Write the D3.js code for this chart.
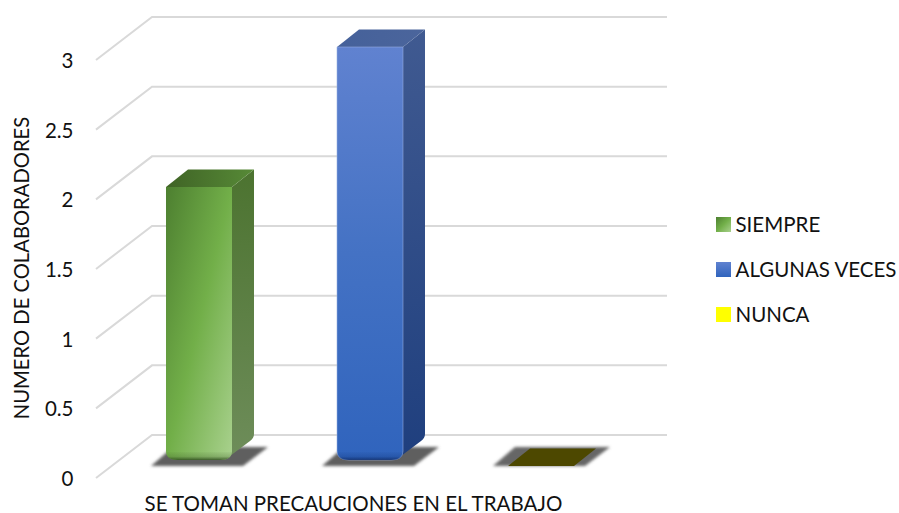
<!DOCTYPE html>
<html><head><meta charset="utf-8">
<script src="https://cdnjs.cloudflare.com/ajax/libs/d3/7.8.5/d3.min.js"></script>
<style>html,body{margin:0;padding:0;background:#fff}svg{display:block}text{font-family:Lato,"Open Sans",sans-serif;fill:#111}</style>
</head><body><script>
const categories = ["SIEMPRE","ALGUNAS VECES","NUNCA"];
const values = [2,3,0];
const tickValues = [0,0.5,1,1.5,2,2.5,3];
const tickLabels = ["0","0.5","1","1.5","2","2.5","3"];
const xTitle = "SE TOMAN PRECAUCIONES EN EL TRABAJO";
const yTitle = "NUMERO DE COLABORADORES";

const W=899,H=513, depthX=22, depthY=17.5, wallX=56, wallY=43;
const svg=d3.select("body").append("svg").attr("width",W).attr("height",H);
const defs=svg.append("defs");
function grad(id,x1,y1,x2,y2,stops){
  const g=defs.append("linearGradient").attr("id",id).attr("x1",x1).attr("y1",y1).attr("x2",x2).attr("y2",y2);
  stops.forEach(s=>g.append("stop").attr("offset",s[0]).attr("stop-color",s[1]).attr("stop-opacity",s[2]===undefined?1:s[2]));
}
grad("gFront",0,0,1,1,[[0,"#4d7f30"],[0.5,"#72af49"],[1,"#a9d18e"]]);
grad("gSide",0,0,0,1,[[0,"#4c7330"],[1,"#6e8d5a"]]);
grad("gTop",0,0,1,0,[[0,"#3f6325"],[1,"#578a37"]]);
grad("bFront",0,0,0,1,[[0,"#6082d0"],[0.5,"#4472c4"],[1,"#3064bd"]]);
grad("bSide",0,0,0,1,[[0,"#405a91"],[1,"#1f3f7e"]]);
grad("bTop",0,0,1,0,[[0,"#45619a"],[1,"#4b659c"]]);
grad("fadeG",0,0,0,1,[[0,"#3c5a28",0],[0.6,"#3c5a28",0.25],[1,"#2c4a1c",0.85]]);
grad("fadeB",0,0,0,1,[[0,"#133a80",0],[0.6,"#133a80",0.3],[1,"#12306e",0.9]]);
grad("legG",0,0,1,1,[[0,"#4d7f30"],[0.5,"#72af49"],[1,"#a9d18e"]]);
grad("legB",0,0,0,1,[[0,"#6082d0"],[1,"#3064bd"]]);
const blur=defs.append("filter").attr("id","sh").attr("x","-20%").attr("y","-50%").attr("width","140%").attr("height","200%");
blur.append("feGaussianBlur").attr("stdDeviation",1.6);

const yAxisScale=d3.scaleLinear().domain([0,3]).range([478,60]);
const yBar=d3.scaleLinear().domain([0,3]).range([467,47]);
const x=d3.scaleBand().domain(categories).range([113.5,626.5]).paddingInner(0.614).paddingOuter(0.307);

// gridlines
const grid=svg.append("g").attr("fill","none").attr("stroke","#d9d9d9").attr("stroke-width",2);
grid.selectAll("path").data(tickValues).join("path")
  .attr("d",v=>{const y=yAxisScale(v);return `M96,${y}L${96+wallX},${y-wallY}H667`;});

// tick labels
svg.append("g").selectAll("text").data(tickValues).join("text")
  .attr("x",73.5).attr("y",v=>yAxisScale(v)+8).attr("text-anchor","end")
  .attr("font-size",20.5).text((v,i)=>tickLabels[i]);

const styles={[categories[0]]:["gFront","gSide","gTop","fadeG"],[categories[1]]:["bFront","bSide","bTop","fadeB"]};
const floorY=yBar(0), bottom=460;
const marks=svg.append("g");
categories.forEach((c,i)=>{
  const x0=x(c), bw=x.bandwidth(), x1=x0+bw, v=values[i];
  const g=marks.append("g");
  // floor shadow
  g.append("path").attr("filter","url(#sh)").attr("fill",v>0?"#5e5e5e":"#666")
    .attr("d",`M${x0-15},${floorY-1}L${x0+7},${floorY-20}H${x1+36}L${x1+11},${floorY-1}Z`);
  if(v>0){
    const top=yBar(v), b=bottom, r=9;
    const frontPath=t=>`M${x0},${t}H${x1}V${b-r}Q${x1},${b} ${x1-r-3},${b}H${x0+r+3}Q${x0},${b} ${x0},${b-r}Z`;
    g.append("path").attr("fill",`url(#${styles[c][1]})`)
      .attr("d",`M${x1},${top}L${x1+depthX},${top-depthY}V${b-26}Q${x1+depthX},${b-22} ${x1+depthX-4},${b-19}L${x1-6},${b-1}L${x1},${b-10}Z`);
    g.append("path").attr("fill",`url(#${styles[c][2]})`)
      .attr("d",`M${x0},${top}L${x0+depthX},${top-depthY}H${x1+depthX}L${x1},${top}Z`);
    g.append("path").attr("fill",`url(#${styles[c][0]})`).attr("d",frontPath(top))
      .attr("stroke",i===1?"#9db2e2":"none").attr("stroke-width",0.8).attr("stroke-opacity",0.7);
    g.append("path").attr("fill",`url(#${styles[c][3]})`).attr("d",frontPath(b-8));
  } else {
    g.append("path").attr("fill","#4d4800")
      .attr("d",`M${x0},${floorY-1}L${x0+depthX},${floorY-depthY-1}H${x1+depthX}L${x1},${floorY-1}Z`);
  }
});

// axis titles
svg.append("text").attr("x",353.5).attr("y",511).attr("text-anchor","middle").attr("font-size",20.5).text(xTitle);
svg.append("text").attr("transform","translate(29,268) rotate(-90)").attr("text-anchor","middle").attr("font-size",20.2).text(yTitle);

// legend
const legFill=["url(#legG)","url(#legB)","#ffff00"], legY=d3.scalePoint().domain(categories).range([224.5,314.5]);
const leg=svg.append("g").selectAll("g").data(categories).join("g").attr("transform",c=>`translate(716,${legY(c)})`);
leg.append("rect").attr("x",0).attr("y",-7.5).attr("width",15).attr("height",15).attr("fill",(c,i)=>legFill[i]);
leg.append("text").attr("x",19.5).attr("y",7).attr("font-size",20.5).text(c=>c);
</script></body></html>
